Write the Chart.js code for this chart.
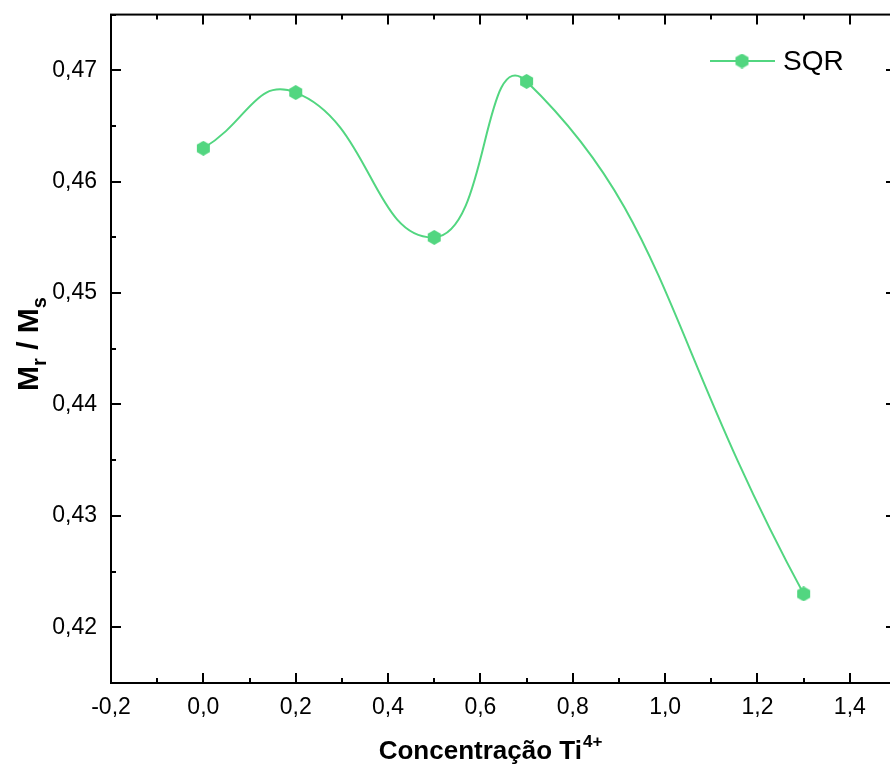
<!DOCTYPE html>
<html>
<head>
<meta charset="utf-8">
<script src="https://cdn.jsdelivr.net/npm/chart.js@4.4.1/dist/chart.umd.min.js"></script>
<style>
  html, body { margin: 0; padding: 0; background: #fff; overflow: hidden; }
  #wrap { width: 905px; height: 766px; }
</style>
</head>
<body>
<div id="wrap"><canvas id="chart" width="905" height="766"></canvas></div>
<script>
// SQR data: remanence ratio vs Ti4+ concentration
const concentration = [0.0, 0.2, 0.5, 0.7, 1.3];
const mrMs = [0.463, 0.468, 0.455, 0.469, 0.423];

const xTicks = [-0.2, 0.0, 0.2, 0.4, 0.6, 0.8, 1.0, 1.2, 1.4];
const yTicks = [0.42, 0.43, 0.44, 0.45, 0.46, 0.47];

const green = 'rgb(82, 214, 128)';
const font = '"Liberation Sans", Arial, sans-serif';

// hexagon marker image
function hexagon(size, color) {
    const c = document.createElement('canvas');
    c.width = size; c.height = size;
    const g = c.getContext('2d');
    const r = size / 2;
    g.fillStyle = color;
    g.beginPath();
    for (let i = 0; i < 6; i++) {
        const a = Math.PI / 2 + i * Math.PI / 3;
        const px = r + r * Math.cos(a);
        const py = r + r * Math.sin(a);
        if (i === 0) g.moveTo(px, py); else g.lineTo(px, py);
    }
    g.closePath();
    g.fill();
    return c;
}
const marker = hexagon(15, green);

const commaFmt = (v, digits) => v.toFixed(digits).replace('.', ',');

// frame, inward ticks, legend and axis titles
const framePlugin = {
    id: 'frame',
    afterDraw(chart) {
        const { ctx, chartArea: a, scales } = chart;
        const x = scales.x, y = scales.y;
        ctx.save();
        ctx.strokeStyle = '#000';
        ctx.lineWidth = 2;
        ctx.strokeRect(a.left, a.top, a.right - a.left, a.bottom - a.top);
        ctx.beginPath();
        for (let v = -0.2; v <= 1.5001; v += 0.1) {
            const px = Math.round(x.getPixelForValue(v));
            const major = Math.round(v * 10) % 2 === 0;
            const len = major ? 10 : 5;
            ctx.moveTo(px, a.bottom); ctx.lineTo(px, a.bottom - len);
            ctx.moveTo(px, a.top); ctx.lineTo(px, a.top + len);
        }
        for (let v = 0.415; v <= 0.4751; v += 0.005) {
            const py = Math.round(y.getPixelForValue(v));
            const major = Math.round(v * 1000) % 10 === 0;
            const len = major ? 10 : 5;
            ctx.moveTo(a.left, py); ctx.lineTo(a.left + len, py);
            ctx.moveTo(a.right, py); ctx.lineTo(a.right - len, py);
        }
        ctx.stroke();

        // legend
        const ly = 61;
        ctx.strokeStyle = green;
        ctx.lineWidth = 2;
        ctx.beginPath();
        ctx.moveTo(710, ly); ctx.lineTo(775, ly);
        ctx.stroke();
        ctx.drawImage(marker, 742 - 7.5, ly - 7.5);
        ctx.fillStyle = '#000';
        ctx.font = '28px ' + font;
        ctx.textBaseline = 'middle';
        ctx.textAlign = 'left';
        ctx.fillText('SQR', 783, ly + 1);

        // x title with superscript
        ctx.textBaseline = 'alphabetic';
        const main = 'Concentração Ti';
        ctx.font = 'bold 26px ' + font;
        const wMain = ctx.measureText(main).width;
        ctx.font = 'bold 17px ' + font;
        const wSup = ctx.measureText('4+').width;
        const startX = 490 - (wMain + wSup) / 2;
        ctx.font = 'bold 26px ' + font;
        ctx.fillText(main, startX, 759);
        ctx.font = 'bold 17px ' + font;
        ctx.fillText('4+', startX + wMain + 1, 747);

        // y title with subscripts, rotated
        ctx.save();
        ctx.translate(38, 344);
        ctx.rotate(-Math.PI / 2);
        const parts = [['M', 30, 0], ['r', 20, 8], [' / M', 30, 0], ['s', 20, 8]];
        let total = 0;
        parts.forEach(p => { ctx.font = 'bold ' + p[1] + 'px ' + font; total += ctx.measureText(p[0]).width; });
        let cx = -total / 2;
        parts.forEach(p => {
            ctx.font = 'bold ' + p[1] + 'px ' + font;
            ctx.fillText(p[0], cx, p[2]);
            cx += ctx.measureText(p[0]).width;
        });
        ctx.restore();
        ctx.restore();
    }
};

new Chart(document.getElementById('chart'), {
    type: 'line',
    data: {
        datasets: [{
            label: 'SQR',
            data: concentration.map((c, i) => ({ x: c, y: mrMs[i] })),
            borderColor: green,
            backgroundColor: green,
            borderWidth: 2,
            tension: 0.5,
            pointStyle: marker,
            pointRadius: 7
        }]
    },
    options: {
        responsive: false,
        animation: false,
        layout: { padding: { top: 14, right: 3, left: 0, bottom: 0 } },
        plugins: { legend: { display: false }, tooltip: { enabled: false } },
        scales: {
            x: {
                type: 'linear',
                min: -0.2,
                max: 1.5,
                afterFit: s => { s.height = 83; },
                afterBuildTicks: s => { s.ticks = xTicks.map(v => ({ value: v })); },
                grid: { display: false, drawTicks: false },
                border: { display: false },
                ticks: {
                    padding: 11,
                    color: '#000',
                    font: { family: font, size: 23 },
                    callback: v => commaFmt(v, 1)
                }
            },
            y: {
                type: 'linear',
                min: 0.415,
                max: 0.475,
                afterFit: s => { s.width = 111; },
                afterBuildTicks: s => { s.ticks = yTicks.map(v => ({ value: v })); },
                grid: { display: false, drawTicks: false },
                border: { display: false },
                ticks: {
                    padding: 14,
                    color: '#000',
                    font: { family: font, size: 23, lineHeight: 0.05 },
                    callback: v => commaFmt(v, 2)
                }
            }
        }
    },
    plugins: [framePlugin]
});
</script>
</body>
</html>
